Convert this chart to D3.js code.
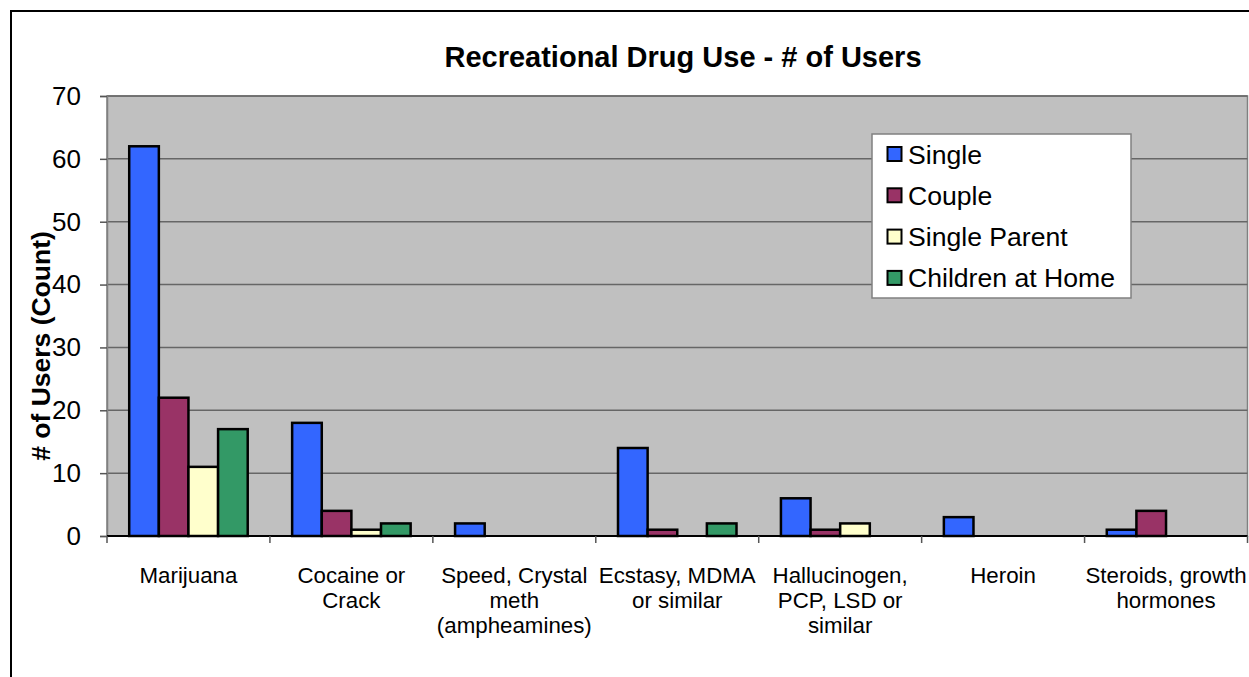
<!DOCTYPE html>
<html><head><meta charset="utf-8">
<script src="https://cdn.jsdelivr.net/npm/d3@7"></script>
<style>body{margin:0;background:#fff}svg{display:block}text{font-family:"Liberation Sans",Arial,sans-serif}</style>
</head><body>
<script>
const categories = [
  ["Marijuana"],
  ["Cocaine or","Crack"],
  ["Speed, Crystal","meth","(ampheamines)"],
  ["Ecstasy, MDMA","or similar"],
  ["Hallucinogen,","PCP, LSD or","similar"],
  ["Heroin"],
  ["Steroids, growth","hormones"]
];
const seriesNames = ["Single","Couple","Single Parent","Children at Home"];
const single       = [62,18,2,14,6,3,1];
const couple       = [22,4,0,1,1,0,4];
const singleParent = [11,1,0,0,2,0,0];
const children     = [17,2,0,2,0,0,0];
const colors = ["#3366FF","#993366","#FFFFCC","#339966"];
const yTicks = [0,10,20,30,40,50,60,70];

const W=1249,H=677;
const svg=d3.select("body").append("svg").attr("width",W).attr("height",H);
svg.append("rect").attr("x",11).attr("y",11).attr("width",1300).attr("height",800)
  .attr("fill","#fff").attr("stroke","#000").attr("stroke-width",2);

const L=107,R=1247.5,T=96,B=536;
const series=[single,couple,singleParent,children];
const x0=d3.scaleBand().domain(d3.range(categories.length)).range([L,R]).padding(0);
const bw=x0.bandwidth(), gap=bw/5.5*1.5;
const x1=d3.scaleBand().domain(d3.range(4)).range([gap/2,bw-gap/2]).padding(0);
const y=d3.scaleLinear().domain([0,70]).range([B,T]);

svg.append("rect").attr("x",L).attr("y",T).attr("width",R-L).attr("height",B-T)
  .attr("fill","#C0C0C0").attr("stroke","#808080").attr("stroke-width",1.5);
svg.append("g").selectAll("line").data(yTicks.slice(1)).join("line")
  .attr("x1",L).attr("x2",R).attr("y1",d=>y(d)).attr("y2",d=>y(d))
  .attr("stroke","#666").attr("stroke-width",1.5);

// y axis
const ya=svg.append("g").attr("transform",`translate(${L},0)`)
  .call(d3.axisLeft(y).tickValues(yTicks).tickSize(7).tickPadding(19));
ya.select(".domain").attr("stroke","#808080").attr("stroke-width",1.5);
ya.selectAll(".tick line").attr("stroke","#555").attr("stroke-width",1.5);
ya.selectAll(".tick text").attr("font-size",26).attr("fill","#000")
  .attr("font-family","Liberation Sans, Arial, sans-serif");

// bars
const g=svg.append("g");
categories.forEach((c,i)=>{
  series.forEach((s,j)=>{
    if(s[i]<=0) return;
    g.append("rect").attr("x",x0(i)+x1(j)).attr("width",x1.bandwidth())
      .attr("y",y(s[i])).attr("height",y(0)-y(s[i]))
      .attr("fill",colors[j]).attr("stroke","#000").attr("stroke-width",2.5);
  });
});

// x axis
const xa=svg.append("g").attr("transform",`translate(0,${B})`);
xa.append("line").attr("x1",L).attr("x2",R).attr("stroke","#000").attr("stroke-width",2);
xa.selectAll("line.t").data(d3.range(categories.length+1)).join("line").attr("class","t")
  .attr("x1",d=>L+d*bw).attr("x2",d=>L+d*bw).attr("y1",0).attr("y2",7)
  .attr("stroke","#555").attr("stroke-width",1.5);
categories.forEach((c,i)=>{
  const t=svg.append("text").attr("x",x0(i)+bw/2).attr("y",583).attr("text-anchor","middle")
    .attr("font-size",22.3);
  c.forEach((ln,k)=>t.append("tspan").attr("x",x0(i)+bw/2).attr("y",583+k*25).text(ln));
});

// title
svg.append("text").attr("x",683).attr("y",67).attr("text-anchor","middle")
  .attr("font-size",29).attr("font-weight","bold").text("Recreational Drug Use - # of Users");
svg.append("text").attr("transform","translate(50,346) rotate(-90)").attr("text-anchor","middle")
  .attr("font-size",26.5).attr("font-weight","bold").text("# of Users (Count)");

// legend
const lg=svg.append("g");
lg.append("rect").attr("x",872).attr("y",134).attr("width",259).attr("height",164)
  .attr("fill","#fff").attr("stroke","#808080").attr("stroke-width",1.5);
seriesNames.forEach((n,i)=>{
  const cy=154+i*41.3;
  lg.append("rect").attr("x",887.5).attr("y",cy-7).attr("width",14).attr("height",14)
    .attr("fill",colors[i]).attr("stroke","#000").attr("stroke-width",2);
  lg.append("text").attr("x",908).attr("y",cy+9.5).attr("font-size",26.6).text(n);
});
</script>
</body></html>
